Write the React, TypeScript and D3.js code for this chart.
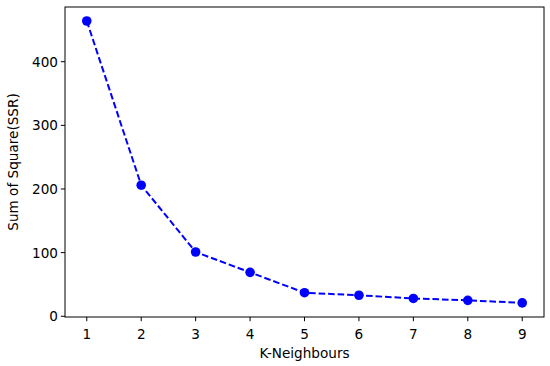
import * as d3 from 'd3';

const kValues = [1, 2, 3, 4, 5, 6, 7, 8, 9];
const ssrValues = [464, 206, 101, 69, 37, 33, 28, 25, 21];
const xTicks = [1, 2, 3, 4, 5, 6, 7, 8, 9];
const yTicks = [0, 100, 200, 300, 400];

const width = 550;
const height = 366;
const margin = { top: 7, right: 6, bottom: 49, left: 65 };

export default function App() {
    const plotW = width - margin.left - margin.right;
    const plotH = height - margin.top - margin.bottom;

    const x = d3.scaleLinear().domain([0.6, 9.4]).range([0, plotW]);
    const y = d3.scaleLinear().domain([-1.15, 486]).range([plotH, 0]);

    const line = d3
        .line<number>()
        .x((_, i) => x(kValues[i]))
        .y((d) => y(d));

    const font = 'DejaVu Sans, sans-serif';
    const fs = 13.6;

    return (
        <svg
            width={width}
            height={height}
            style={{ position: 'absolute', left: 0, top: 0, background: '#fff' }}
        >
            <g transform={`translate(${margin.left},${margin.top})`}>
                <path
                    d={line(ssrValues) || ''}
                    fill="none"
                    stroke="#0000ff"
                    strokeWidth={2}
                    strokeDasharray="6.6 2.9"
                />
                {ssrValues.map((v, i) => (
                    <circle key={i} cx={x(kValues[i])} cy={y(v)} r={4.8} fill="#0000ff" />
                ))}

                <rect x={0} y={0} width={plotW} height={plotH} fill="none" stroke="#000" strokeWidth={1} />

                {/* x axis */}
                {xTicks.map((t) => (
                    <g key={t} transform={`translate(${x(t)},${plotH})`}>
                        <line y2={4.2} stroke="#000" strokeWidth={1} />
                        <text y={18} textAnchor="middle" dominantBaseline="middle" fontSize={fs} fontFamily={font} fill="#000">
                            {t}
                        </text>
                    </g>
                ))}

                {/* y axis */}
                {yTicks.map((t) => (
                    <g key={t} transform={`translate(0,${y(t)})`}>
                        <line x2={-4.2} stroke="#000" strokeWidth={1} />
                        <text x={-7} textAnchor="end" dominantBaseline="central" fontSize={fs} fontFamily={font} fill="#000">
                            {t}
                        </text>
                    </g>
                ))}

                <text
                    x={plotW / 2}
                    y={plotH + 37}
                    textAnchor="middle"
                    dominantBaseline="middle"
                    fontSize={fs}
                    fontFamily={font}
                    fill="#000"
                >
                    K-Neighbours
                </text>
                <text
                    transform={`translate(${-51},${plotH / 2}) rotate(-90)`}
                    textAnchor="middle"
                    dominantBaseline="middle"
                    fontSize={fs}
                    fontFamily={font}
                    fill="#000"
                >
                    Sum of Square(SSR)
                </text>
            </g>
        </svg>
    );
}
